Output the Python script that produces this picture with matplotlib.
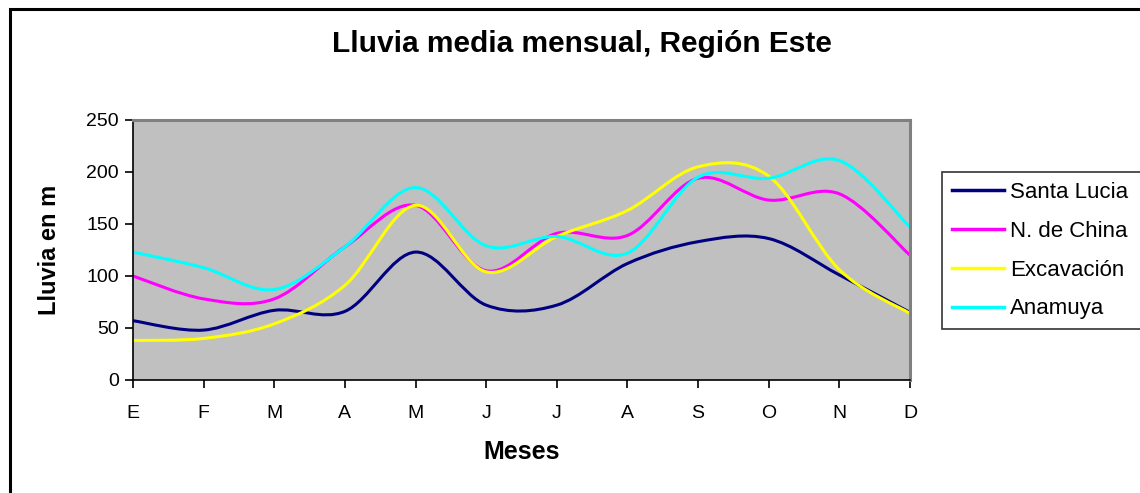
import numpy as np
import matplotlib.pyplot as plt
from matplotlib.path import Path
from matplotlib.patches import PathPatch, Rectangle
from matplotlib.lines import Line2D

plt.rcParams['font.family'] = ['Liberation Sans', 'DejaVu Sans']

meses = ['E', 'F', 'M', 'A', 'M', 'J', 'J', 'A', 'S', 'O', 'N', 'D']
santa_lucia = [57, 48, 67, 66, 123, 72, 72, 112, 133, 136, 101, 65]
n_de_china = [100, 78, 78, 128, 168, 105, 141, 139, 194, 173, 179, 120]
excavacion = [38, 40, 54, 91, 168, 104, 138, 163, 205, 196, 106, 64]
anamuya = [123, 108, 87, 128, 185, 129, 138, 122, 195, 194, 211, 147]

series = [
    ('Santa Lucia', santa_lucia, '#000080'),
    ('N. de China', n_de_china, '#FF00FF'),
    ('Excavación', excavacion, '#FFFF00'),
    ('Anamuya', anamuya, '#00FFFF'),
]


def smooth_path(y):
    # cubic bezier through every point (catmull-rom style handles)
    x = np.arange(len(y), dtype=float)
    y = np.asarray(y, dtype=float)
    pts = np.column_stack([x, y])
    ext = np.vstack([pts[0], pts, pts[-1]])
    verts = [pts[0]]
    codes = [Path.MOVETO]
    for i in range(len(pts) - 1):
        p0, p1, p2, p3 = ext[i], ext[i + 1], ext[i + 2], ext[i + 3]
        c1 = p1 + (p2 - p0) / 6.0
        c2 = p2 - (p3 - p1) / 6.0
        verts += [c1, c2, p2]
        codes += [Path.CURVE4] * 3
    return Path(verts, codes)


W, H = 1140, 493
fig = plt.figure(figsize=(W / 100, H / 100), dpi=100)
fig.patch.set_facecolor('white')

# chart frame, runs off the right and bottom edges
fig.patches.append(Rectangle((9.5 / W, -0.1), 1.2, 1 - 8.5 / H + 0.1,
                             transform=fig.transFigure, fill=False,
                             edgecolor='black', linewidth=2.2))

ax = fig.add_axes([133 / W, 113 / H, 777 / W, 260 / H])
ax.set_facecolor('#C0C0C0')

handles = []
for name, vals, col in series:
    ax.add_patch(PathPatch(smooth_path(vals), facecolor='none',
                           edgecolor=col, linewidth=2.2, capstyle='round'))
    handles.append(Line2D([], [], color=col, linewidth=2.5, label=name))

ax.set_xlim(0, len(meses) - 1)
ax.set_ylim(0, 250)
ax.set_xticks(range(len(meses)))
ax.set_xticklabels(meses)
ax.set_yticks(range(0, 251, 50))

for s in ['top', 'right']:
    ax.spines[s].set_color('#808080')
    ax.spines[s].set_linewidth(2.2)
for s in ['left', 'bottom']:
    ax.spines[s].set_color('black')
    ax.spines[s].set_linewidth(1.2)

ax.tick_params(axis='both', direction='out', length=6, width=1.2,
               colors='black', labelsize=14)
ax.tick_params(axis='x', pad=12)
ax.tick_params(axis='y', pad=4)

ax.set_xlabel('Meses', fontsize=18, fontweight='bold', labelpad=13)
ax.set_ylabel('Lluvia en m', fontsize=17, fontweight='bold', labelpad=18)

fig.text(582 / W, 1 - 52 / H, 'Lluvia media mensual, Región Este',
         fontsize=21.5, fontweight='bold', ha='center', va='baseline')

# legend box is wider than the figure, so its right side is cut
leg = fig.legend(handles=handles, loc='upper left',
                 bbox_to_anchor=(942 / W, 1 - 172 / H, 220 / W, 0),
                 mode='expand', fontsize=16,
                 frameon=True, fancybox=False, edgecolor='black',
                 handlelength=2.35, handletextpad=0.27, labelspacing=0.8,
                 borderpad=0.45, borderaxespad=0)
leg.get_frame().set_linewidth(1.2)

fig.savefig('out.png', dpi=100)
